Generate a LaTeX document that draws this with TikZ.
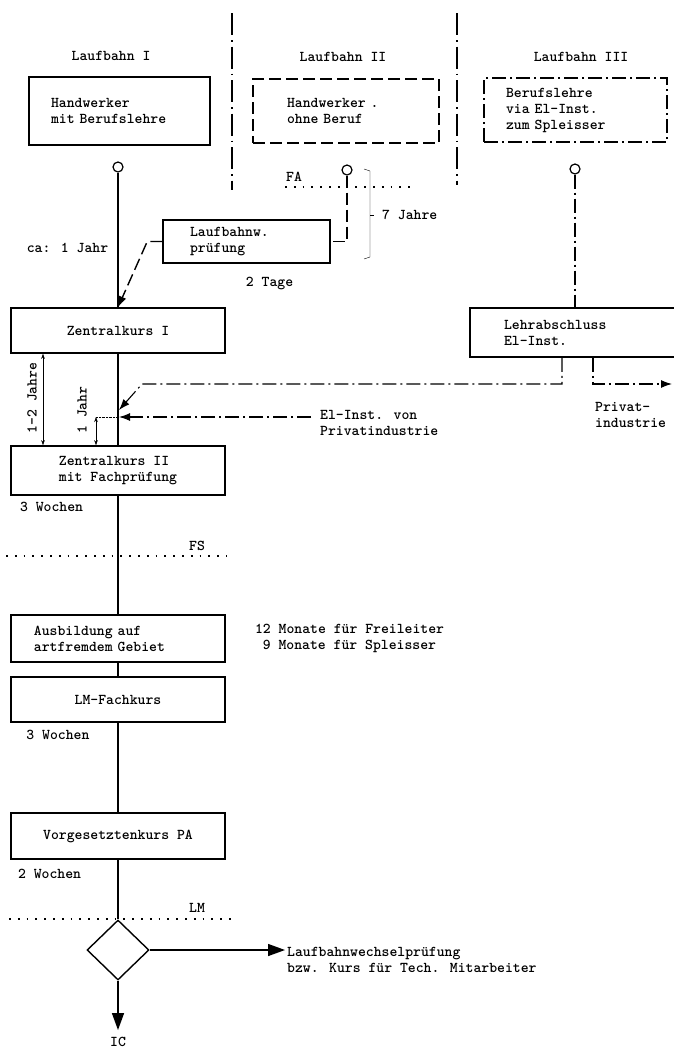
\documentclass[tikz,border=0pt]{standalone}
\usetikzlibrary{arrows.meta,shapes.geometric,positioning}

\tikzset{
  kasten/.style={draw, line width=1.5pt, align=left, inner ysep=0pt},
  gestrichelt/.style={line width=1.4pt, dash pattern=on 12pt off 5pt},
  strichpunkt/.style={line width=1.1pt, dash pattern=on 14pt off 4pt on 2pt off 4pt},
  trennlinie/.style={line width=1.1pt, dash pattern=on 22pt off 5pt on 1.5pt off 5pt},
  punktlinie/.style={line width=1.8pt, dash pattern=on 1.8pt off 7pt},
  linie/.style={line width=1.4pt},
  pfeil/.style={-{Latex[length=11pt,width=8pt]}},
  grosspfeil/.style={-{Triangle[length=17pt,width=12pt]}},
  mass/.style={thin, {Stealth[length=5pt,width=3.5pt]}-{Stealth[length=5pt,width=3.5pt]}},
  ring/.style={circle, draw, line width=1.2pt, minimum size=10pt, inner sep=0pt},
}

\begin{document}
\begin{tikzpicture}[x=1pt,y=-1pt,font=\fontsize{15}{16}\selectfont\ttfamily\bfseries]
  \useasboundingbox (0,0) rectangle (673,1050);

  % Trennlinien zwischen den Laufbahnen
  \draw[trennlinie] (232,13) -- (232,190);
  \draw[trennlinie] (457,13) -- (457,185);

  \node (tI)   at (111,56) {Laufbahn I};
  \node (tII)  at (343,57) {Laufbahn II};
  \node (tIII) at (581,57) {Laufbahn III};

  % Ausgangslage
  \node[kasten, minimum height=68pt, inner xsep=22pt, text width=137pt] (hwb) at (119.5,111) {Handwerker\\mit Berufslehre};
  \node[kasten, gestrichelt, line width=1.5pt, minimum height=64pt, inner xsep=34pt, text width=118pt] (hwo) at (346,111) {Handwerker .\\ohne Beruf};
  \node[kasten, strichpunkt, line width=1.5pt, minimum height=64pt, inner xsep=22pt, text width=139pt] (bl) at (575.5,110) {Berufslehre\\via El-Inst.\\zum Spleisser};

  \node[ring] (r1) at (118,167) {};
  \node[ring] (r2) at (347,170) {};
  \node[ring] (r3) at (575,169) {};

  % FA
  \node (fa) at (294,177) {FA};
  \draw[punktlinie] (285,187) -- (410,187);
  \draw[thin] (364,169) -- (370,171) -- (370,257) -- (364,259);
  \draw[thin] (370,215) -- (374,215);
  \node[anchor=west, inner sep=0pt] (sieben) at (382,215) {7 Jahre};

  \node[kasten, minimum height=43pt, inner xsep=27pt, text width=113pt] (lw) at (246.5,241.5) {Laufbahnw.\\prüfung};
  \node[below=10pt of lw, xshift=23pt] (tage) {2 Tage};
  \node (caj) at (67.5,248) {ca: 1 Jahr};

  \node[kasten, minimum width=214pt, minimum height=45pt, align=center] (zk1) at (118,330.5) {Zentralkurs I};
  \node[kasten, minimum height=49pt, inner xsep=34pt, text width=147pt] (la) at (577.5,332.5) {Lehrabschluss\\El-Inst.};

  \draw[linie] (r1) -- (zk1);
  \draw[gestrichelt] (r2) |- (lw.east);
  \draw[gestrichelt, pfeil] (lw.west) -- ++(-15,0) -- (zk1.north);
  \draw[strichpunkt] (r3) -- (r3 |- la.north);

  % Einmuendungen
  \coordinate (einm1) at (119,410);
  \coordinate (einm2) at (119,417);
  \coordinate (raus) at (672,384);
  \draw[strichpunkt, pfeil] ([xshift=-15.5pt]la.south) |- (142,384) -- (einm1);
  \draw[strichpunkt, pfeil] ([xshift=15.5pt]la.south) |- (raus);
  \node[anchor=west, align=left, inner sep=0pt] (privat) at (595,414.5) {Privat-\\industrie};
  \node[anchor=west, align=left, inner sep=0pt] (elinst) at (320,423) {El-Inst. von\\Privatindustrie};
  \draw[strichpunkt, pfeil] ([xshift=-9pt]elinst.west |- einm2) -- (einm2);

  \node[kasten, minimum width=214pt, minimum height=49pt] (zk2) at (118,470.5) {Zentralkurs II\\mit Fachprüfung};
  \draw[linie] (zk1) -- (zk2);

  % Zeitmasse
  \coordinate (m12) at (43,0);
  \coordinate (m1) at (96,0);
  \draw[mass] (zk1.south -| m12) -- (zk2.north -| m12);
  \draw[mass] (einm2 -| m1) -- (zk2.north -| m1);
  \draw[densely dotted, thin] (einm2 -| m1) -- (einm2);
  \node[rotate=90] (j12) at (32,398) {1-2 Jahre};
  \node[rotate=90] (j1) at (82,410) {1 Jahr};

  \node (w3a) at (51.5,507) {3 Wochen};
  \node (fs) at (197,546) {FS};
  \draw[punktlinie] (6,556) -- (227,556);

  \node[kasten, minimum height=47pt, inner xsep=23pt, text width=168pt] (aus) at (118,638.5) {Ausbildung auf\\artfremdem Gebiet};
  \node[align=center] (monate) at (349.5,638) {12 Monate für Freileiter\\9 Monate für Spleisser};
  \node[kasten, minimum width=214pt, minimum height=45pt] (lmf) at (118,699.5) {LM-Fachkurs};
  \node (w3b) at (58,735) {3 Wochen};
  \node[kasten, minimum width=214pt, minimum height=46pt] (vk) at (118,836) {Vorgesetztenkurs PA};
  \node (w2) at (49.5,874) {2 Wochen};

  \draw[linie] (zk2) -- (aus);
  \draw[linie] (aus) -- (lmf);
  \draw[linie] (lmf) -- (vk);

  % LM
  \node (lm) at (197,908) {LM};
  \draw[punktlinie] (9,919) -- (234,919);
  \node[diamond, draw, line width=1.4pt, minimum width=62pt, minimum height=60pt, inner sep=0pt] (raute) at (118,950) {};
  \draw[linie] (vk) -- (raute);

  \node[anchor=west, align=left, inner sep=0pt] (wechsel) at (287,959.5) {Laufbahnwechselprüfung\\bzw. Kurs für Tech. Mitarbeiter};
  \node[inner sep=1pt] (ic) at (118,1042) {IC};
  \draw[linie, grosspfeil] (raute.east) -- ([xshift=-2pt]wechsel.west |- raute.east);
  \draw[linie, grosspfeil] (raute) -- ([yshift=6pt]ic.north);
\end{tikzpicture}
\end{document}
